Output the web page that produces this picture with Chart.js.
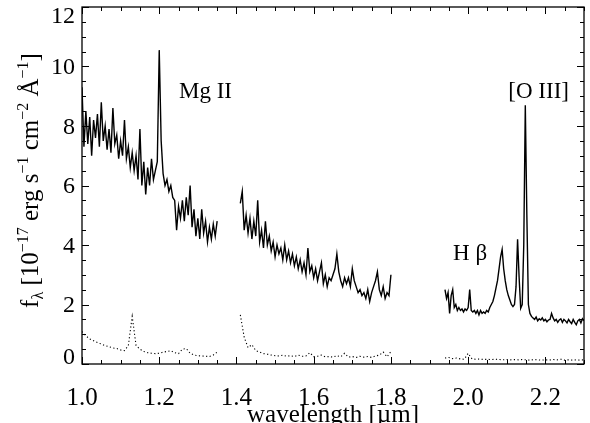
<!DOCTYPE html>
<html>
<head>
<meta charset="utf-8">
<script src="https://cdn.jsdelivr.net/npm/chart.js@4.4.1/dist/chart.umd.min.js"></script>
<style>
  html, body { margin: 0; padding: 0; background: #fff; }
</style>
</head>
<body>
<canvas id="spec" width="590" height="423"></canvas>
<script>
// spectrum pieces: start wavelength (micron), sampling step, flux in 1e-17 erg/s/cm2/A
const seg1Start = 1.000, seg1Step = 0.005;
const seg1Flux = [
  9.3, 7.3, 8.5, 7.4, 8.3, 7.0, 8.2, 7.6, 8.4, 7.3,
  8.8, 7.5, 8.0, 7.2, 7.9, 7.1, 8.6, 7.4, 7.7, 6.9,
  7.5, 7.0, 8.2, 6.9, 7.3, 6.6, 7.1, 6.5, 7.0, 6.2,
  7.9, 6.0, 6.8, 5.7, 6.6, 6.0, 6.9, 6.2, 6.5, 6.8,
  10.55, 7.5, 6.4, 6.0, 6.2, 5.8, 6.0, 5.6, 5.5, 4.5,
  5.3, 4.9, 5.5, 4.8, 5.6, 5.0, 6.0, 4.6, 5.2, 4.3,
  4.9, 4.2, 5.2, 4.4, 4.8, 4.1, 4.6, 4.2, 4.7, 4.3,
  4.8
];

const seg2Start = 1.410, seg2Step = 0.005;
const seg2Flux = [
  5.4, 5.8, 4.5, 5.0, 4.4, 4.9, 4.2, 4.8, 4.3, 5.5,
  4.1, 4.5, 3.9, 4.8, 4.0, 4.3, 3.8, 4.1, 3.6, 4.0,
  3.7, 3.9, 3.5, 4.0, 3.5, 3.8, 3.4, 3.7, 3.3, 3.6,
  3.2, 3.5, 3.1, 3.4, 3.0, 3.9, 3.1, 3.3, 2.9, 3.2,
  2.8, 3.1, 3.4, 2.7, 3.0, 2.6, 2.9, 2.8, 3.0, 3.2,
  3.7, 3.1, 2.8, 2.6, 2.9, 2.7, 2.9, 2.6, 3.2, 2.8,
  2.6, 2.4, 2.5, 2.3, 2.4, 2.2, 2.5, 2.1, 2.4, 2.6,
  2.8, 3.1, 2.5, 2.3, 2.6, 2.2, 2.4, 2.3, 3.0
];

const seg3Start = 1.940, seg3Step = 0.004;
const seg3Flux = [
  2.5, 2.2, 2.4, 1.7, 2.3, 2.5, 1.9, 2.0, 1.8, 1.9,
  1.8, 1.85, 1.75, 1.85, 1.8, 1.9, 2.5, 1.8, 1.75, 1.8,
  1.7, 1.8, 1.65, 1.8, 1.7, 1.75, 1.7, 1.8, 1.75, 1.9,
  2.0, 2.1, 2.3, 2.55, 2.8, 3.2, 3.6, 3.85, 3.2, 2.8,
  2.5, 2.3, 2.15, 2.0, 1.93, 2.0, 2.6, 4.19, 2.9, 1.87,
  2.0, 4.0, 8.7, 5.0, 2.0, 1.7, 1.6, 1.55, 1.5, 1.58,
  1.45, 1.52, 1.48, 1.55, 1.45, 1.5, 1.42, 1.48, 1.5, 1.7,
  1.55, 1.45, 1.5, 1.4, 1.48, 1.52, 1.4, 1.5, 1.45, 1.38,
  1.5, 1.42, 1.36, 1.5, 1.4, 1.32, 1.45, 1.5, 1.38, 1.52,
  1.45
];

// error spectrum (dotted)
const noiseStep = 0.01;
const noise1Start = 1.00;
const noise1 = [
  1.09, 0.95, 0.84, 0.78, 0.72, 0.67, 0.62, 0.58, 0.54, 0.52,
  0.47, 0.45, 0.62, 1.6, 0.62, 0.5, 0.42, 0.38, 0.36, 0.35,
  0.36, 0.4, 0.42, 0.45, 0.38, 0.35, 0.5, 0.52, 0.36, 0.3,
  0.28, 0.27, 0.26, 0.25, 0.3, 0.4
];
const noise2Start = 1.41;
const noise2 = [
  1.65, 0.9, 0.55, 0.65, 0.45, 0.4, 0.35, 0.33, 0.3, 0.28,
  0.27, 0.3, 0.26, 0.28, 0.25, 0.3, 0.26, 0.27, 0.38, 0.25,
  0.26, 0.3, 0.24, 0.25, 0.23, 0.28, 0.24, 0.36, 0.23, 0.25,
  0.22, 0.26, 0.23, 0.25, 0.22, 0.27, 0.3, 0.4, 0.24, 0.42
];
const noise3Start = 1.94;
const noise3 = [
  0.2, 0.22, 0.18, 0.2, 0.17, 0.16, 0.36, 0.17, 0.16, 0.17,
  0.15, 0.16, 0.15, 0.16, 0.15, 0.14, 0.15, 0.14, 0.15, 0.14,
  0.15, 0.14, 0.13, 0.15, 0.14, 0.13, 0.14, 0.13, 0.15, 0.14,
  0.16, 0.13, 0.14, 0.13, 0.14, 0.13, 0.14
];

const xTicks = [1.0, 1.2, 1.4, 1.6, 1.8, 2.0, 2.2];
const yTicks = [0, 2, 4, 6, 8, 10, 12];

// line labels: text and where the left end of its baseline sits (data units)
const lineLabels = [
  { text: "Mg II", x: 1.251, y: 8.94 },
  { text: "[O III]", x: 2.104, y: 8.94 },
  { text: "H \u03b2", x: 1.961, y: 3.50 }
];

// y title pieces: text, script level (0 normal, 1 superscript, -1 subscript)
const yTitleParts = [
  ["f", 0], ["\u03bb", -1], [" [10", 0], ["\u221217", 1], [" erg s", 0], ["\u22121", 1],
  [" cm", 0], ["\u22122", 1], [" \u00c5", 0], ["\u22121", 1], ["]", 0]
];

const FONT = '"Liberation Serif", "Times New Roman", serif';

function toPoints(start, step, flux) {
  return flux.map((f, i) => ({ x: +(start + i * step).toFixed(4), y: f }));
}

function solid(start, step, flux) {
  return {
    data: toPoints(start, step, flux),
    borderColor: "#000",
    borderWidth: 1.4,
    pointRadius: 0,
    tension: 0,
  };
}

function dotted(start, flux) {
  return {
    data: toPoints(start, noiseStep, flux),
    borderColor: "#000",
    borderWidth: 1.1,
    borderDash: [1.2, 2.4],
    pointRadius: 0,
    tension: 0,
  };
}

// box, inward ticks, y labels, y title and line names
const framePlugin = {
  id: "frame",
  afterDatasetsDraw(chart) {
    const { ctx, chartArea: a, scales: { x, y } } = chart;
    ctx.save();
    ctx.strokeStyle = "#000";
    ctx.lineWidth = 1.3;
    ctx.strokeRect(a.left, a.top, a.right - a.left, a.bottom - a.top);

    ctx.lineWidth = 1;
    ctx.beginPath();
    const nx = Math.round((x.max - x.min) / 0.05);
    for (let k = 0; k <= nx; k++) {
      const px = Math.round(x.getPixelForValue(x.min + k * 0.05)) + 0.5;
      const len = k % 4 === 0 ? 7 : 4;
      ctx.moveTo(px, a.bottom); ctx.lineTo(px, a.bottom - len);
      ctx.moveTo(px, a.top); ctx.lineTo(px, a.top + len);
    }
    const ny = Math.round((y.max - y.min) / 0.5);
    for (let k = 0; k <= ny; k++) {
      const py = Math.round(y.getPixelForValue(y.min + k * 0.5)) + 0.5;
      const len = k % 4 === 0 ? 7 : 4;
      ctx.moveTo(a.left, py); ctx.lineTo(a.left + len, py);
      ctx.moveTo(a.right, py); ctx.lineTo(a.right - len, py);
    }
    ctx.stroke();

    // y tick labels, end labels kept inside the frame height
    const size = 24, capH = 0.66 * size;
    ctx.fillStyle = "#000";
    ctx.font = size + "px " + FONT;
    ctx.textAlign = "right";
    ctx.textBaseline = "alphabetic";
    yTicks.forEach((v) => {
      const py = y.getPixelForValue(v);
      let base = py + capH / 2;
      if (v === y.max) base = py + capH;
      if (v === y.min) base = py;
      ctx.fillText(String(v), a.left - 7, base);
    });

    // line names
    ctx.textAlign = "left";
    ctx.font = "23px " + FONT;
    lineLabels.forEach((l) => {
      ctx.fillText(l.text, x.getPixelForValue(l.x), y.getPixelForValue(l.y));
    });

    // rotated y title with sub/superscripts
    const big = "25px " + FONT, small = "16px " + FONT;
    ctx.translate(38, (a.top + a.bottom) / 2 - 5);
    ctx.rotate(-Math.PI / 2);
    let total = 0;
    yTitleParts.forEach(([t, lvl]) => {
      ctx.font = lvl === 0 ? big : small;
      total += ctx.measureText(t).width;
    });
    let pos = -total / 2;
    yTitleParts.forEach(([t, lvl]) => {
      ctx.font = lvl === 0 ? big : small;
      const dy = lvl === 1 ? -10 : lvl === -1 ? 5 : 0;
      ctx.fillText(t, pos, dy);
      pos += ctx.measureText(t).width;
    });
    ctx.restore();
  },
};

new Chart(document.getElementById("spec"), {
  type: "line",
  data: {
    datasets: [
      solid(seg1Start, seg1Step, seg1Flux),
      solid(seg2Start, seg2Step, seg2Flux),
      solid(seg3Start, seg3Step, seg3Flux),
      dotted(noise1Start, noise1),
      dotted(noise2Start, noise2),
      dotted(noise3Start, noise3),
    ],
  },
  options: {
    responsive: false,
    animation: false,
    devicePixelRatio: 1,
    layout: { padding: { top: 7, right: 6, left: 0, bottom: 0 } },
    plugins: { legend: { display: false }, tooltip: { enabled: false } },
    scales: {
      x: {
        type: "linear",
        min: 1.0,
        max: 2.3,
        afterBuildTicks: (s) => { s.ticks = xTicks.map((v) => ({ value: v })); },
        afterFit: (s) => { s.height = 59; s.paddingLeft = 0; s.paddingRight = 0; },
        grid: { display: false, drawTicks: false },
        border: { display: false },
        ticks: {
          color: "#000",
          padding: 19,
          maxRotation: 0,
          font: { family: FONT, size: 25 },
          callback: (v) => Number(v).toFixed(1),
        },
        title: {
          display: true,
          text: "wavelength [\u00b5m]",
          color: "#000",
          padding: 0,
          font: { family: FONT, size: 25, lineHeight: 0.6 },
        },
      },
      y: {
        type: "linear",
        min: 0,
        max: 12,
        afterBuildTicks: (s) => { s.ticks = yTicks.map((v) => ({ value: v })); },
        afterFit: (s) => { s.width = 82; s.paddingTop = 0; s.paddingBottom = 0; },
        grid: { display: false, drawTicks: false },
        border: { display: false },
        ticks: { display: false },
      },
    },
  },
  plugins: [framePlugin],
});
</script>
</body>
</html>
